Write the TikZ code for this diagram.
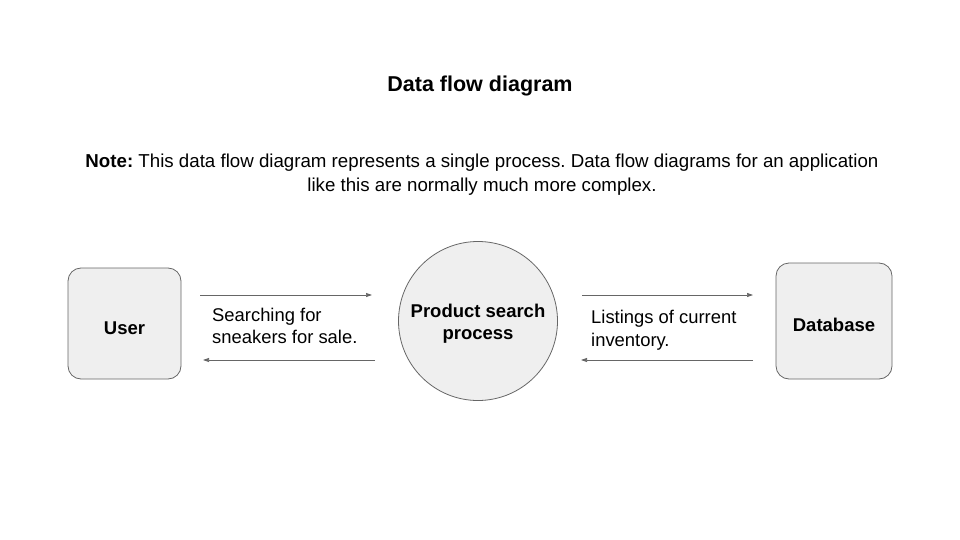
\documentclass[tikz,border=0pt]{standalone}
\usepackage{fontspec}
\setmainfont{Liberation Sans}
\usetikzlibrary{arrows.meta}
\definecolor{boxfill}{HTML}{EFEFEF}
\definecolor{boxline}{HTML}{666666}
\definecolor{arrowcol}{HTML}{666666}
\frenchspacing
\begin{document}
\begin{tikzpicture}[x=1pt,y=-1pt,
  entity/.style={draw=boxline,fill=boxfill,rounded corners=13pt,line width=0.8pt,inner sep=0pt},
  proc/.style={draw=boxline,fill=boxfill,circle,line width=0.8pt,inner sep=0pt,minimum size=159pt},
  lbl/.style={font=\fontsize{18.4}{22.5}\selectfont,align=left,anchor=west,inner sep=0pt},
  bold/.style={font=\fontsize{18.5}{22.5}\selectfont\bfseries,align=center},
  flow/.style={draw=arrowcol,line width=0.7pt,-{Triangle[length=6pt,width=4pt]}}]
\useasboundingbox (0,0) rectangle (960,540);
\node[font=\fontsize{21.5}{24}\selectfont\bfseries] (title) at (480,86) {Data flow diagram};
\node[font=\fontsize{18.7}{24}\selectfont,align=center] (note) at (482,175) {\textbf{Note:} This data flow diagram represents a single process. Data flow diagrams for an application\\like this are normally much more complex.};
\node[entity,minimum width=113pt,minimum height=111pt] (user) at (124.5,323.5) {};
\node[bold] (usert) at ([yshift=-4.5pt]user.center) {User};
\node[proc] (proc) at (478,321) {};
\node[bold] (proct) at ([yshift=-2.5pt]proc.center) {Product search\\process};
\node[entity,minimum width=116pt,minimum height=116pt] (db) at (834,321) {};
\node[bold] (dbt) at ([yshift=-4pt]db.center) {Database};
\coordinate (a1s) at (200,295); \coordinate (a1e) at (372,295);
\coordinate (a2s) at (375,360); \coordinate (a2e) at (203,360);
\coordinate (a3s) at (582,295); \coordinate (a3e) at (753,295);
\coordinate (a4s) at (753,360); \coordinate (a4e) at (581,360);
\draw[flow] (a1s) -- (a1e);
\draw[flow] (a2s) -- (a2e);
\draw[flow] (a3s) -- (a3e);
\draw[flow] (a4s) -- (a4e);
\node[lbl] (l1) at (212,326) {Searching for\\sneakers for sale.};
\node[lbl] (l2) at (591,330) {Listings of current\\inventory.};
\end{tikzpicture}
\end{document}
